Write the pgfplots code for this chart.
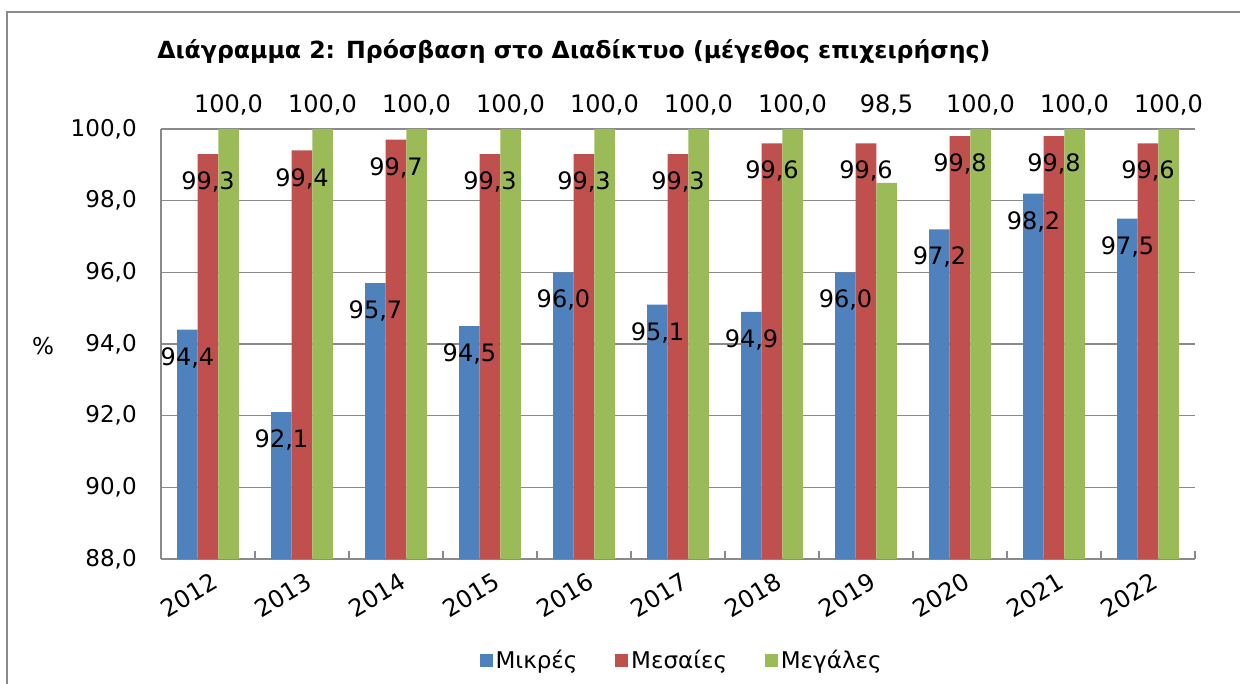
\documentclass[border=0pt]{standalone}
\usepackage{pgfplots}
\pgfplotsset{compat=1.18}
\usepackage{pgfplotstable}
\usepackage{fontspec}
\setmainfont{DejaVu Sans}
\definecolor{cblue}{HTML}{4F81BD}
\definecolor{cred}{HTML}{C0504D}
\definecolor{cgreen}{HTML}{9BBB59}
\definecolor{cgray}{HTML}{8A8A8A}
\pgfplotstableread{
x small medium large top
0 94.4 99.3 100.0 100
1 92.1 99.4 100.0 100
2 95.7 99.7 100.0 100
3 94.5 99.3 100.0 100
4 96.0 99.3 100.0 100
5 95.1 99.3 100.0 100
6 94.9 99.6 100.0 100
7 96.0 99.6 98.5 100
8 97.2 99.8 100.0 100
9 98.2 99.8 100.0 100
10 97.5 99.6 100.0 100
}\data
\newcommand{\lblfont}{\fontsize{18}{21}\selectfont}
\newcommand{\tickfont}{\fontsize{17.3}{20}\selectfont}
\begin{document}
\begin{tikzpicture}
\pgfkeys{/pgf/number format/.cd, fixed, fixed zerofill, precision=1, use comma, assume math mode=true}
\useasboundingbox (0,0) rectangle (930pt,512.25pt);
\draw[cgray, line width=1.5pt] (5.25pt,-5pt) -- (5.25pt,503.25pt) -- (935pt,503.25pt);
\node[anchor=base west, font=\bfseries\fontsize{17.7}{21}\selectfont, inner sep=0pt] at (117.75pt,468.5pt) {Διάγραμμα 2: Πρόσβαση στο Διαδίκτυο (μέγεθος επιχειρήσης)};
\node[font=\tickfont] at (32.25pt,252.75pt) {\%};
\begin{axis}[
  at={(120.75pt,93pt)}, anchor=south west,
  scale only axis, width=775.5pt, height=322.5pt,
  ybar, bar width=15.4pt, clip=false,
  xmin=-0.5, xmax=10.5, ymin=88, ymax=100,
  ytick={88,90,...,100},
  xtick={0,...,10},
  xticklabels={2012,2013,2014,2015,2016,2017,2018,2019,2020,2021,2022},
  minor xtick={-0.5,0.5,...,10.5},
  axis x line*=bottom, axis y line*=left,
  axis line style={cgray, line width=1.5pt},
  ymajorgrids, grid style={cgray, line width=1.2pt},
  tick align=inside,
  major tick length=3.75pt, minor tick length=6pt,
  ytick style={draw=none},
  xtick style={cgray, line width=1.2pt},
  yticklabel style={font=\tickfont, inner sep=0pt, xshift=-18pt},
  xticklabel style={font=\lblfont, anchor=north east, inner sep=0pt, xshift=2pt, yshift=-9pt, rotate=31},
  legend style={at={(0.504,-0.235)}, anchor=center, draw=none, fill=none, font=\tickfont, legend columns=3,
    /tikz/every even column/.append style={column sep=26.5pt}},
  legend image code/.code={\fill[#1] (0pt,-4.9pt) rectangle (9.75pt,4.9pt);},
]
\addplot[fill=cblue, draw=none, bar shift=-15.4pt, nodes near coords,
  nodes near coords style={anchor=center, yshift=-21pt, font=\lblfont}] table[x=x, y=small]{\data};
\addlegendentry{Μικρές}
\addplot[fill=cred, draw=none, bar shift=0pt, nodes near coords,
  nodes near coords style={anchor=center, yshift=-21pt, font=\lblfont}] table[x=x, y=medium]{\data};
\addlegendentry{Μεσαίες}
\addplot[fill=cgreen, draw=none, bar shift=15.4pt] table[x=x, y=large]{\data};
\addlegendentry{Μεγάλες}
\addplot[draw=none, fill=none, bar shift=15.4pt, forget plot, point meta=explicit, nodes near coords,
  nodes near coords style={anchor=center, yshift=18pt, font=\lblfont}] table[x=x, y=top, meta=large]{\data};
\end{axis}
\end{tikzpicture}
\end{document}
